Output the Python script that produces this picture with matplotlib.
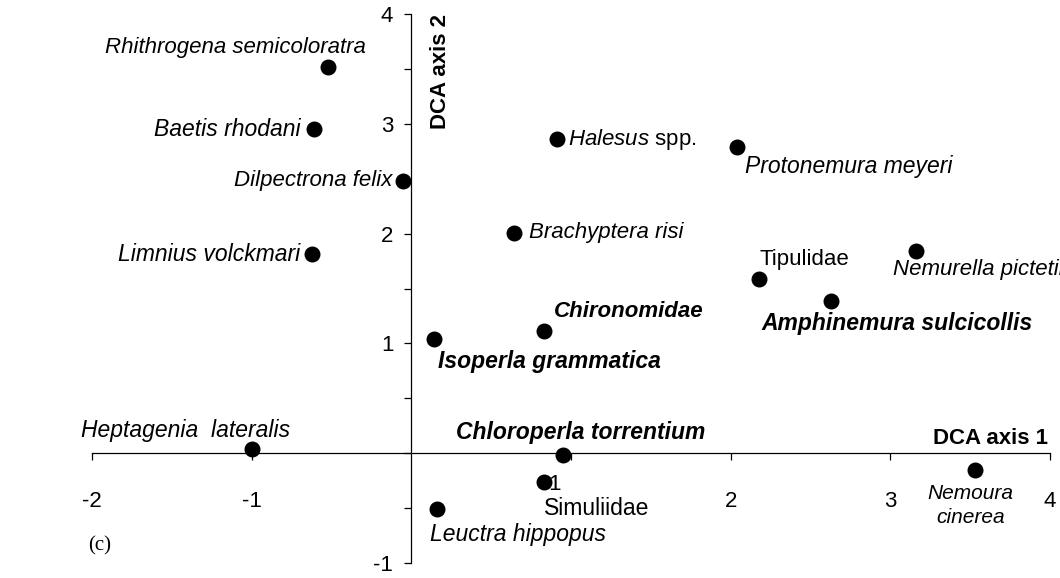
import matplotlib
matplotlib.use("Agg")
import matplotlib.pyplot as plt
from matplotlib.ticker import MultipleLocator, FixedLocator
from matplotlib.transforms import ScaledTranslation

plt.rcParams["font.family"] = ["Liberation Sans", "DejaVu Sans"]
plt.rcParams["axes.unicode_minus"] = False
plt.rcParams["mathtext.fontset"] = "custom"
plt.rcParams["mathtext.it"] = "Liberation Sans:italic"
plt.rcParams["mathtext.rm"] = "Liberation Sans"

# Species scores on the first two DCA axes
species = ["Rhithrogena semicoloratra", "Baetis rhodani", "Dilpectrona felix",
           "Limnius volckmari", "Heptagenia  lateralis", r"$\it{Halesus}$ spp.",
           "Protonemura meyeri", "Brachyptera risi", "Tipulidae",
           "Nemurella pictetii", "Amphinemura sulcicollis", "Chironomidae",
           "Isoperla grammatica", "Chloroperla torrentium", "Simuliidae",
           "Leuctra hippopus", "Nemoura\ncinerea"]
axis1 = [-0.52, -0.61, -0.05, -0.62, -1.00, 0.91, 2.04, 0.64, 2.18,
         3.16, 2.63, 0.83, 0.14, 0.95, 0.83, 0.16, 3.53]
axis2 = [3.52, 2.95, 2.48, 1.81, 0.04, 2.86, 2.79, 2.01, 1.59,
         1.84, 1.39, 1.11, 1.04, -0.02, -0.26, -0.51, -0.15]

# label placement: (dx, dy in points, ha, size, style, weight)
layout = [(27, 14, "right", 16, "italic", "normal"),
          (-9.5, 0, "right", 16.5, "italic", "normal"),
          (-8, 0, "right", 16, "italic", "normal"),
          (-9, 0, "right", 16.5, "italic", "normal"),
          (-123, 13, "left", 16.5, "italic", "normal"),
          (8, 0, "left", 16, "normal", "normal"),
          (6, -14.5, "left", 16.5, "italic", "normal"),
          (11, 0, "left", 16, "italic", "normal"),
          (0, 14, "left", 16, "normal", "normal"),
          (-16.5, -13, "left", 16, "italic", "normal"),
          (-50, -16.5, "left", 16.5, "italic", "bold"),
          (7, 14, "left", 16, "italic", "bold"),
          (3, -16, "left", 16.5, "italic", "bold"),
          (-77, 16.5, "left", 16.5, "italic", "bold"),
          (0, -19, "left", 16.5, "normal", "normal"),
          (-5, -18, "left", 16.5, "italic", "normal"),
          (-3, -26, "center", 15, "italic", "normal")]

fig = plt.figure(figsize=(10.6, 5.78), dpi=100)
ax = fig.add_axes([92 / 1060, 15 / 578, 958 / 1060, 549 / 578])
ax.set_xlim(-2, 4)
ax.set_ylim(-1, 4)

for s in ["top", "right"]:
    ax.spines[s].set_visible(False)
ax.spines["left"].set_position(("data", 0))
ax.spines["bottom"].set_position(("data", 0))
for s in ["left", "bottom"]:
    ax.spines[s].set_linewidth(0.9)

ax.xaxis.set_major_locator(FixedLocator([-2, -1, 1, 2, 3, 4]))
ax.yaxis.set_major_locator(FixedLocator([-1, 1, 2, 3, 4]))
ax.yaxis.set_minor_locator(MultipleLocator(0.5))
ax.tick_params(axis="x", direction="out", length=5, width=0.9, pad=22, labelsize=16)
ax.tick_params(axis="y", which="both", direction="out", length=5, width=0.9, pad=8, labelsize=16)

# the "1" on axis 1 sits up and to the left in the original
tick1 = ax.xaxis.get_major_ticks()[2]
tick1.label1.set_transform(tick1.label1.get_transform()
                           + ScaledTranslation(-0.17, 0.17, fig.dpi_scale_trans))

ax.scatter(axis1, axis2, s=110, color="black", zorder=3, clip_on=False)

for name, x, y, (dx, dy, ha, size, style, weight) in zip(species, axis1, axis2, layout):
    ax.annotate(name, (x, y), xytext=(dx, dy), textcoords="offset points",
                ha=ha, va="center", fontsize=size, style=style, fontweight=weight,
                linespacing=1.35, annotation_clip=False)

ax.text(0.12, 4.0, "DCA axis 2", rotation=90, ha="left", va="top",
        fontsize=16, fontweight="bold")
ax.text(3.99, 0.04, "DCA axis 1", ha="right", va="bottom",
        fontsize=16, fontweight="bold")
fig.text(100 / 1060, 1 - 546 / 578, "(c)", family="Liberation Serif",
         fontsize=15, ha="center", va="center")

fig.savefig("out.png", dpi=100)
